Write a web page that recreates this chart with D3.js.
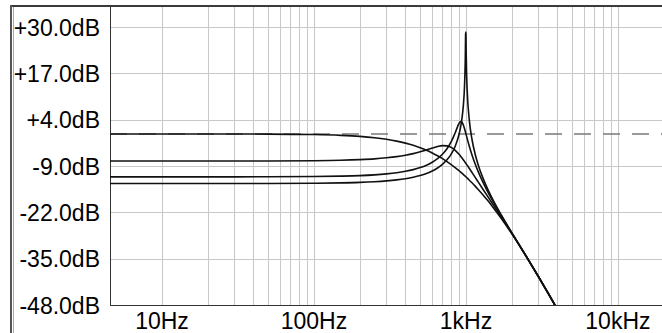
<!DOCTYPE html>
<html>
<head>
<meta charset="utf-8">
<script src="https://cdn.jsdelivr.net/npm/d3@7"></script>
<style>
  body { margin: 0; background: #fff; }
  svg { display: block; }
  text { font-family: "Liberation Sans", Arial, sans-serif; fill: #000; }
</style>
</head>
<body>
<svg width="662" height="333"></svg>
<script>
// frequency points (Hz) shared by all response curves
const freqs = [4.5, 10, 20, 50, 100, 150, 200, 250, 300, 350, 400, 450, 500, 550, 600, 650, 700, 750, 800, 850,
  900, 920, 940, 960, 980, 990, 995, 998, 1000, 1003, 1010, 1020, 1050, 1100, 1150, 1200, 1300, 1400, 1500, 1700,
  2000, 2500, 3000, 3500, 4000, 4500, 5000];

// magnitude (dB), one array per resonance setting
const resNone = [0, 0, -0.01, -0.04, -0.17, -0.39, -0.68, -1.05, -1.50, -2.01, -2.58, -3.20, -3.88, -4.59, -5.34, -6.12,
  -6.93, -7.75, -8.59, -9.45, -10.31, -10.65, -11.00, -11.35, -11.69, -11.87, -11.95, -12.01, -12.04, -12.09, -12.22,
  -12.39, -12.91, -13.78, -14.64, -15.50, -17.19, -18.85, -20.48, -23.60, -27.96, -34.41, -40.00, -44.89, -49.22,
  -53.09, -56.60];
const resLow = [-7.60, -7.60, -7.60, -7.58, -7.51, -7.39, -7.21, -6.99, -6.70, -6.37, -5.97, -5.52, -5.02, -4.49, -3.97,
  -3.53, -3.28, -3.34, -3.78, -4.60, -5.71, -6.20, -6.71, -7.24, -7.77, -8.03, -8.17, -8.25, -8.30, -8.38, -8.57,
  -8.83, -9.63, -10.93, -12.18, -13.39, -15.65, -17.73, -19.67, -23.19, -27.83, -34.43, -40.04, -44.92, -49.24,
  -53.11, -56.61];
const resMid = [-12.04, -12.04, -12.04, -12.02, -11.95, -11.84, -11.69, -11.48, -11.21, -10.89, -10.49, -10.02, -9.45,
  -8.77, -7.95, -6.95, -5.72, -4.16, -2.18, 0.34, 2.93, 3.46, 3.35, 2.57, 1.37, 0.69, 0.35, 0.14, 0, -0.21, -0.69,
  -1.38, -3.31, -6.11, -8.44, -10.43, -13.74, -16.46, -18.81, -22.79, -27.72, -34.45, -40.08, -44.96, -49.27,
  -53.13, -56.63];
const resHigh = [-13.91, -13.91, -13.91, -13.89, -13.83, -13.74, -13.60, -13.41, -13.18, -12.90, -12.56, -12.15, -11.66,
  -11.08, -10.39, -9.56, -8.54, -7.27, -5.64, -3.44, -0.17, 1.69, 4.15, 7.72, 14.15, 21.07, 28.0, 28.6, 27.96, 23.30,
  16.78, 11.73, 4.22, -1.91, -5.69, -8.48, -12.62, -15.76, -18.35, -22.59, -27.67, -34.47, -40.10, -44.98, -49.29,
  -53.14, -56.64];

const dbTicks = [30, 17, 4, -9, -22, -35, -48];
const freqTicks = [10, 100, 1000, 10000];
const freqLabels = ["10Hz", "100Hz", "1kHz", "10kHz"];
const refLevel = 0;

const svg = d3.select("svg");
const plotL = 110, plotR = 661, plotT = 6, plotB = 305;

const x = d3.scaleLog().domain([4.55, 19200]).range([plotL, plotR]);
const y = d3.scaleLinear().domain([-48, 35.9]).range([plotB, plotT]);

svg.append("defs").append("clipPath").attr("id", "plot")
  .append("rect").attr("x", plotL).attr("y", plotT).attr("width", plotR - plotL + 1).attr("height", plotB - plotT);

// grid
const grid = svg.append("g").attr("stroke", "#c8c8c8").attr("stroke-width", 1).attr("shape-rendering", "crispEdges");
grid.selectAll("line.v")
  .data(x.ticks().filter(f => f >= 10 && f <= 10000))
  .join("line")
  .attr("class", "v")
  .attr("x1", d => Math.round(x(d)) + 0.5).attr("x2", d => Math.round(x(d)) + 0.5)
  .attr("y1", plotT).attr("y2", plotB);
grid.selectAll("line.h")
  .data(dbTicks.slice(0, -1))
  .join("line")
  .attr("class", "h")
  .attr("x1", plotL).attr("x2", 662)
  .attr("y1", d => Math.round(y(d)) + 0.5).attr("y2", d => Math.round(y(d)) + 0.5);

// frame
const frame = svg.append("g").attr("shape-rendering", "crispEdges");
frame.append("line").attr("x1", 11).attr("x2", 662).attr("y1", 6).attr("y2", 6)
  .attr("stroke", "#3a3a3a").attr("stroke-width", 2);
frame.append("line").attr("x1", 11).attr("x2", 11).attr("y1", 5).attr("y2", 333)
  .attr("stroke", "#555").attr("stroke-width", 2);
frame.append("line").attr("x1", 13.5).attr("x2", 13.5).attr("y1", 7).attr("y2", 333)
  .attr("stroke", "#aaa").attr("stroke-width", 1);
frame.append("line").attr("x1", plotL + 0.5).attr("x2", plotL + 0.5).attr("y1", plotT).attr("y2", plotB + 1)
  .attr("stroke", "#333").attr("stroke-width", 1);
frame.append("line").attr("x1", plotL).attr("x2", 662).attr("y1", plotB + 0.5).attr("y2", plotB + 0.5)
  .attr("stroke", "#333").attr("stroke-width", 1);

// reference level
svg.append("line")
  .attr("x1", plotL).attr("x2", 662)
  .attr("y1", y(refLevel)).attr("y2", y(refLevel))
  .attr("stroke", "#7a7a7a").attr("stroke-width", 1.5)
  .attr("stroke-dasharray", "17,12");

// curves
const line = d3.line()
  .x((d, i) => x(freqs[i]))
  .y(d => y(d))
  .curve(d3.curveMonotoneX);

svg.append("g")
  .attr("clip-path", "url(#plot)")
  .attr("fill", "none")
  .attr("stroke", "#111")
  .attr("stroke-width", 1.6)
  .selectAll("path")
  .data([resNone, resLow, resMid, resHigh])
  .join("path")
  .attr("d", line);

// labels
svg.append("g")
  .attr("font-size", 23)
  .attr("text-anchor", "end")
  .selectAll("text")
  .data(dbTicks)
  .join("text")
  .attr("x", 100)
  .attr("y", d => y(d) + 8.5)
  .text(d => (d > 0 ? "+" : "") + d.toFixed(1) + "dB");

svg.append("g")
  .attr("font-size", 23)
  .attr("text-anchor", "middle")
  .selectAll("text")
  .data(freqTicks)
  .join("text")
  .attr("x", d => x(d))
  .attr("y", 329)
  .text((d, i) => freqLabels[i]);
</script>
</body>
</html>
